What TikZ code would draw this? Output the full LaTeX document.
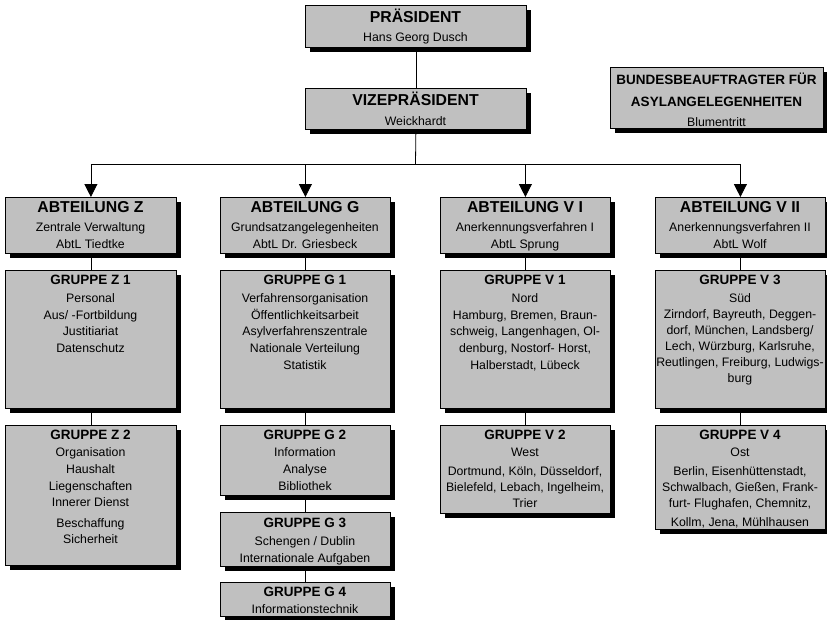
\documentclass[tikz,border=0pt]{standalone}
\usepackage{fontspec}
\setmainfont{Liberation Sans}
\usetikzlibrary{arrows.meta,calc}
\definecolor{boxgray}{HTML}{C0C0C0}
\tikzset{
 orgrect/.style={draw=black, line width=0.8pt, fill=boxgray, inner sep=0pt},
 boxshadow/.style={fill=black, draw=none, inner sep=0pt},
 txt/.style={anchor=base, inner sep=0pt, text=black},
 body/.style={txt, font=\fontsize{12.3}{14}\selectfont},
 toptitle/.style={txt, font=\fontsize{15.8}{18}\selectfont\bfseries},
 abttitle/.style={txt, font=\fontsize{15.8}{18}\selectfont\bfseries},
 grptitle/.style={txt, font=\fontsize{13.5}{16}\selectfont\bfseries},
 conn/.style={draw=black, line width=0.8pt},
 arr/.style={conn, -{Triangle[width=13pt,length=13pt]}},
}
\newcommand\obox[5]{%
  \node[boxshadow,anchor=north west,minimum width=#4pt,minimum height=#5pt] (#1-s) at (#2+4.5,#3+4.5) {};
  \node[orgrect,anchor=north west,minimum width=#4pt,minimum height=#5pt] (#1) at (#2,#3) {};}
\begin{document}
\begin{tikzpicture}[x=1pt,y=-1pt]
\useasboundingbox (0,0) rectangle (827,619);
% boxes
\obox{pres}{305}{5}{221}{42}
\obox{vp}{305}{88}{221}{41}
\obox{bb}{610}{67}{213}{61}
\obox{abtz}{5}{197}{171}{56}
\obox{abtg}{220}{197}{170}{56}
\obox{abtvi}{440}{197}{170}{56}
\obox{abtvii}{655}{197}{170}{56}
\obox{z1}{5}{270}{171}{138}
\obox{z2}{5}{425}{171}{140}
\obox{g1}{220}{270}{170}{138}
\obox{g2}{220}{425}{170}{70}
\obox{g3}{220}{512}{170}{54}
\obox{g4}{220}{582}{170}{34}
\obox{v1}{440}{270}{170}{138}
\obox{v2}{440}{425}{170}{88}
\obox{v3}{655}{270}{170}{138}
\obox{v4}{655}{425}{170}{104}
% connectors
\coordinate (bus) at (415.5,164);
\draw[conn] (pres.south) -- (vp.north);
\draw[conn] (vp.south) -- (bus);
\draw[conn] (abtz.north |- bus) -- (abtvii.north |- bus);
\draw[arr] (abtz.north |- bus) -- (abtz.north);
\draw[arr] (abtg.north |- bus) -- (abtg.north);
\draw[arr] (abtvi.north |- bus) -- (abtvi.north);
\draw[arr] (abtvii.north |- bus) -- (abtvii.north);
\draw[conn] (abtz.south) -- (z1.north);
\draw[conn] (z1.south) -- (z2.north);
\draw[conn] (abtg.south) -- (g1.north);
\draw[conn] (g1.south) -- (g2.north);
\draw[conn] (g2.south) -- (g3.north);
\draw[conn] (g3.south) -- (g4.north);
\draw[conn] (abtvi.south) -- (v1.north);
\draw[conn] (v1.south) -- (v2.north);
\draw[conn] (abtvii.south) -- (v3.north);
\draw[conn] (v3.south) -- (v4.north);
% top texts
\node[toptitle] (pres-t) at (415.5,22.7) {PRÄSIDENT};
\node[body] (pres-1) at (415.5,41.7) {Hans Georg Dusch};
\node[toptitle] (vp-t) at (415.5,105) {VIZEPRÄSIDENT};
\node[body] (vp-1) at (415.5,125) {Weickhardt};
\node[grptitle] (bb-t1) at (716.5,84.9) {BUNDESBEAUFTRAGTER FÜR};
\node[grptitle] (bb-t2) at (716.5,106.6) {ASYLANGELEGENHEITEN};
\node[body] (bb-1) at (716.5,126) {Blumentritt};
% Abteilungen
\node[abttitle] (abtz-t) at (90.5,212.7) {ABTEILUNG Z};
\node[body] (abtz-1) at (90.5,231.4) {Zentrale Verwaltung};
\node[body] (abtz-2) at (90.5,248.4) {AbtL Tiedtke};
\node[abttitle] (abtg-t) at (305,212.7) {ABTEILUNG G};
\node[body] (abtg-1) at (305,231.4) {Grundsatzangelegenheiten};
\node[body] (abtg-2) at (305,248.4) {AbtL Dr. Griesbeck};
\node[abttitle] (abtvi-t) at (525,212.7) {ABTEILUNG V I};
\node[body] (abtvi-1) at (525,231.4) {Anerkennungsverfahren I};
\node[body] (abtvi-2) at (525,248.4) {AbtL Sprung};
\node[abttitle] (abtvii-t) at (740,212.7) {ABTEILUNG V II};
\node[body] (abtvii-1) at (740,231.4) {Anerkennungsverfahren II};
\node[body] (abtvii-2) at (740,248.4) {AbtL Wolf};
% Gruppen
\node[grptitle] (z1-t) at (90.5,284.8) {GRUPPE Z 1};
\foreach \yy/\mytext [count=\i] in {302.4/Personal,319.15/{Aus/ -Fortbildung},335.9/Justitiariat,352.65/Datenschutz}
  \node[body] (z1-\i) at (90.5,\yy) {\mytext};
\node[grptitle] (z2-t) at (90.5,439.8) {GRUPPE Z 2};
\foreach \yy/\mytext [count=\i] in {456.4/Organisation,473.2/Haushalt,490/Liegenschaften,506.8/Innerer Dienst,527/Beschaffung,543.8/Sicherheit}
  \node[body] (z2-\i) at (90.5,\yy) {\mytext};
\node[grptitle] (g1-t) at (305,284.8) {GRUPPE G 1};
\foreach \yy/\mytext [count=\i] in {302.4/Verfahrensorganisation,319.15/Öffentlichkeitsarbeit,335.9/Asylverfahrenszentrale,352.65/Nationale Verteilung,369.4/Statistik}
  \node[body] (g1-\i) at (305,\yy) {\mytext};
\node[grptitle] (g2-t) at (305,439.8) {GRUPPE G 2};
\foreach \yy/\mytext [count=\i] in {456.4/Information,473.2/Analyse,490/Bibliothek}
  \node[body] (g2-\i) at (305,\yy) {\mytext};
\node[grptitle] (g3-t) at (305,527.8) {GRUPPE G 3};
\foreach \yy/\mytext [count=\i] in {545.4/{Schengen / Dublin},562.2/Internationale Aufgaben}
  \node[body] (g3-\i) at (305,\yy) {\mytext};
\node[grptitle] (g4-t) at (305,596.8) {GRUPPE G 4};
\node[body] (g4-1) at (305,613.4) {Informationstechnik};
\node[grptitle] (v1-t) at (525,284.8) {GRUPPE V 1};
\foreach \yy/\mytext [count=\i] in {302.4/Nord,319.15/{Hamburg, Bremen, Braun-},335.9/{schweig, Langenhagen, Ol-},352.65/{denburg, Nostorf- Horst,},369.4/{Halberstadt, Lübeck}}
  \node[body] (v1-\i) at (525,\yy) {\mytext};
\node[grptitle] (v2-t) at (525,439.8) {GRUPPE V 2};
\foreach \yy/\mytext [count=\i] in {456.4/West,475/{Dortmund, Köln, Düsseldorf,},491.4/{Bielefeld, Lebach, Ingelheim,},507.8/Trier}
  \node[body] (v2-\i) at (525,\yy) {\mytext};
\node[grptitle] (v3-t) at (740,284.8) {GRUPPE V 3};
\foreach \yy/\mytext [count=\i] in {302.4/Süd,318.4/{Zirndorf, Bayreuth, Deggen-},334.4/{dorf, München, Landsberg/},350.4/{Lech, Würzburg, Karlsruhe,},366.4/{Reutlingen, Freiburg, Ludwigs-},382.4/burg}
  \node[body] (v3-\i) at (740,\yy) {\mytext};
\node[grptitle] (v4-t) at (740,439.8) {GRUPPE V 4};
\foreach \yy/\mytext [count=\i] in {456.4/Ost,475/{Berlin, Eisenhüttenstadt,},491.4/{Schwalbach, Gießen, Frank-},507.8/{furt- Flughafen, Chemnitz,},526.8/{Kollm, Jena, Mühlhausen}}
  \node[body] (v4-\i) at (740,\yy) {\mytext};
\end{tikzpicture}
\end{document}
